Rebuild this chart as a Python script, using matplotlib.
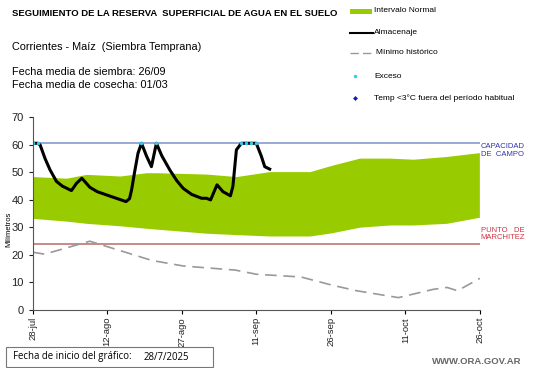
import matplotlib.pyplot as plt
from matplotlib.lines import Line2D
from matplotlib.patches import Rectangle

plt.rcParams['font.family'] = ['Liberation Sans', 'DejaVu Sans']

# days since 28/7/2025
TICK_DAYS = [0, 15, 30, 45, 60, 75, 90]
TICK_LABELS = ['28-jul', '12-ago', '27-ago', '11-sep', '26-sep', '11-oct', '26-oct']

CAPACIDAD = 60.6
MARCHITEZ = 24.0

band_days = [0, 6.8, 10.8, 17.6, 22.9, 24.9, 35, 41, 47.7, 55.8, 60, 65.8, 71.9, 76.6, 83.3, 89.9]
band_upper = [48.5, 47.9, 49.3, 48.7, 49.9, 49.9, 49.4, 48.5, 50.3, 50.3, 52.5, 55.2, 55.2, 54.8, 55.8, 57.2]
band_lower = [33.3, 32.3, 31.5, 30.6, 29.7, 29.4, 27.9, 27.4, 26.9, 26.9, 28.0, 30.1, 30.9, 30.9, 31.5, 33.7]

alm_days = [0, 1, 1.5, 2.5, 3.5, 4.8, 6, 7.8, 8.8, 9.9, 11.5, 13, 14.9, 17, 18.8, 19.5,
            19.9, 20.5, 21.2, 21.9, 22.9, 23.9, 24.9, 26, 27.6, 29, 30.3, 32, 34, 35,
            35.8, 37.1, 38.3, 39.8, 40.3, 41, 42, 43, 44, 45, 46, 46.7, 47.7]
alm_vals = [60.6, 60.6, 60, 55, 50.9, 46.7, 45, 43.4, 46, 47.9, 44.6, 43, 41.8, 40.5, 39.4, 40.5,
            43.6, 50, 57, 60.6, 56, 52.1, 60.6, 56, 50.9, 47, 44.2, 42, 40.6, 40.6,
            40, 45.5, 43, 41.5, 45, 58.2, 60.6, 60.6, 60.6, 60.6, 56, 52.1, 51.2]

exceso_days = [0, 1, 21.9, 24.9, 42, 43, 44, 45]

min_days = [0, 2.4, 11.5, 24, 30.3, 40.8, 45, 54, 60.3, 65.2, 73.6, 80.6, 83.4, 85.5, 90]
min_vals = [21, 20.3, 25, 18, 16, 14.5, 13, 12, 9, 7, 4.5, 7.5, 8.2, 7, 11.5]

GREEN = '#99cc00'
CYAN = '#33ccee'

fig = plt.figure(figsize=(5.41, 3.68), dpi=100)
ax = fig.add_axes([0.0604, 0.1576, 0.8266, 0.5234])

ax.fill_between(band_days, band_lower, band_upper, color=GREEN, lw=0)
ax.axhline(CAPACIDAD, color='#8899cc', lw=1.2)
ax.axhline(MARCHITEZ, color='#bb7777', lw=1.2)
ax.plot(min_days, min_vals, color='#999999', lw=1.2, dashes=(7, 4))
ax.plot(alm_days, alm_vals, color='black', lw=2.2, solid_joinstyle='round')
ax.plot(exceso_days, [CAPACIDAD] * len(exceso_days), 'o', color=CYAN, ms=2.5, mec='none')

ax.set_xlim(0, 90)
ax.set_ylim(0, 70)
ax.set_yticks(range(0, 71, 10))
ax.set_xticks(TICK_DAYS)
ax.set_xticklabels(TICK_LABELS, rotation=90, fontsize=6.8, color='#222222')
ax.tick_params(axis='y', labelsize=8, colors='#222222', length=3)
ax.tick_params(axis='x', length=3, pad=2)
for s in ['top', 'right']:
    ax.spines[s].set_visible(False)
for s in ['left', 'bottom']:
    ax.spines[s].set_color('#555555')
ax.set_ylabel('Milímetros', fontsize=5.5)
ax.yaxis.set_label_coords(-0.045, 0.42)

ax.text(1.002, CAPACIDAD, 'CAPACIDAD\nDE  CAMPO', transform=ax.get_yaxis_transform(),
        fontsize=5.5, color='#3333aa', va='top', ha='left', linespacing=1.1)
ax.text(1.002, MARCHITEZ + 6.2, 'PUNTO   DE\nMARCHITEZ', transform=ax.get_yaxis_transform(),
        fontsize=5.5, color='#cc3344', va='top', ha='left', linespacing=1.1)

# header texts
W, H = 541, 368
def fx(px):
    return px / W
def fy(py):
    return 1 - py / H

fig.text(fx(12), fy(13), 'SEGUIMIENTO DE LA RESERVA  SUPERFICIAL DE AGUA EN EL SUELO',
         fontsize=6.8, fontweight='bold', va='center')
fig.text(fx(12), fy(47), 'Corrientes - Maíz  (Siembra Temprana)', fontsize=7.8, va='center')
fig.text(fx(12), fy(72), 'Fecha media de siembra: 26/09', fontsize=7.8, va='center')
fig.text(fx(12), fy(85), 'Fecha media de cosecha: 01/03', fontsize=7.8, va='center')

# legend
fig.add_artist(Rectangle((fx(350), fy(14)), fx(22), 5 / H, color=GREEN, lw=0))
fig.text(fx(374), fy(11), 'Intervalo Normal', fontsize=6, va='center')
fig.add_artist(Line2D([fx(350), fx(373)], [fy(33), fy(33)], color='black', lw=1.5))
fig.text(fx(374), fy(33), 'Almacenaje', fontsize=6, va='center')
fig.add_artist(Line2D([fx(350), fx(373)], [fy(53), fy(53)], color='#999999', lw=1,
                      dashes=(6, 3)))
fig.text(fx(376), fy(53), 'Mínimo histórico', fontsize=6, va='center')
fig.add_artist(Line2D([fx(355)], [fy(76)], marker='o', color=CYAN, ms=2.5, mec='none'))
fig.text(fx(374), fy(76), 'Exceso', fontsize=6, va='center')
fig.add_artist(Line2D([fx(355)], [fy(98)], marker='D', color='#1a1aaa', ms=2.5, mec='none'))
fig.text(fx(374), fy(98), 'Temp <3°C fuera del período habitual', fontsize=6, va='center')

# footer
fig.add_artist(Rectangle((fx(6), fy(367)), fx(207), 20 / H, facecolor='white',
                         edgecolor='#777777', lw=0.8, zorder=5))
fig.text(fx(13), fy(357), 'Fecha de inicio del gráfico:', fontsize=6.9, va='center',
         family=['Open Sans', 'DejaVu Sans'], zorder=6)
fig.text(fx(144), fy(357), '28/7/2025', fontsize=6.9, va='center',
         family=['Open Sans', 'DejaVu Sans'], zorder=6)
fig.text(fx(521), fy(361), 'WWW.ORA.GOV.AR', fontsize=6.8, color='#666666',
         fontweight='bold', ha='right', va='center')

fig.savefig('out.png', dpi=100)
